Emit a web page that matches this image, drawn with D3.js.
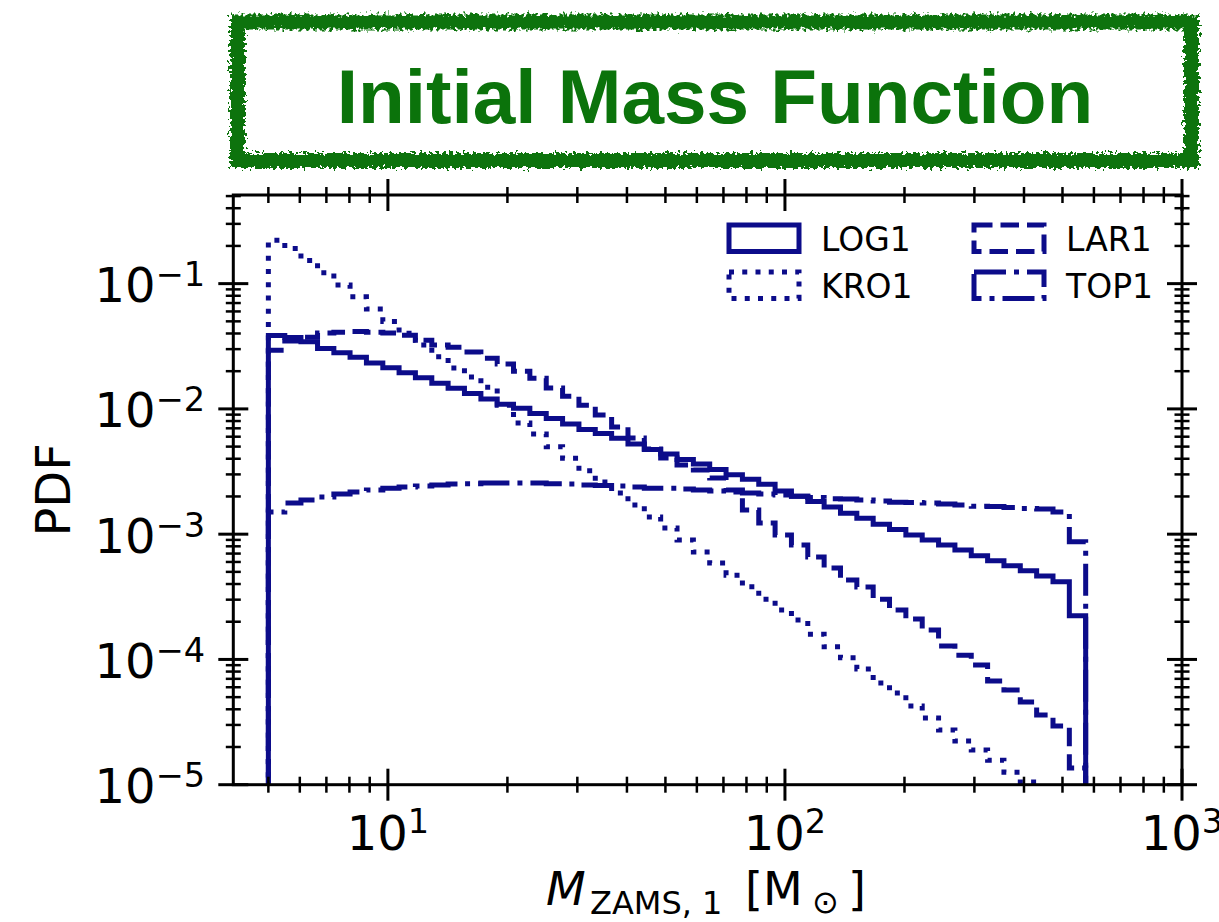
<!DOCTYPE html>
<html>
<head>
<meta charset="utf-8">
<script src="https://cdn.jsdelivr.net/npm/d3@7"></script>
<style>
  body { margin: 0; background: #fff; }
  svg { display: block; }
</style>
</head>
<body>
<script>
// log-spaced bin edges of the histograms (M_sun)
const binEdges = [5.00, 5.50, 6.04, 6.65, 7.31, 8.03, 8.83, 9.71, 10.67, 11.73,
  12.90, 14.18, 15.59, 17.15, 18.85, 20.72, 22.78, 25.05, 27.54, 30.28,
  33.29, 36.60, 40.24, 44.24, 48.64, 53.48, 58.80, 64.64, 71.07, 78.14,
  85.91, 94.45, 103.84, 114.16, 125.52, 138.00, 151.72, 166.81, 183.39, 201.63,
  221.68, 243.72, 267.96, 294.60, 323.90, 356.10, 391.51, 430.44, 473.24, 520.30, 572.03];

// PDF per bin
const log1 = [0.0386, 0.0372, 0.0343, 0.0304, 0.0281, 0.0258, 0.0233, 0.0213, 0.0194, 0.0177,
  0.0160, 0.0146, 0.0133, 0.0120, 0.0109, 0.0101, 0.0092, 0.0084, 0.00756, 0.00686,
  0.00637, 0.00582, 0.00524, 0.00475, 0.00436, 0.00395, 0.00363, 0.00329, 0.00298, 0.00274,
  0.00250, 0.00221, 0.00201, 0.00182, 0.00165, 0.00147, 0.00134, 0.00120, 0.00109, 0.000984,
  0.000897, 0.000818, 0.000746, 0.000672, 0.000613, 0.000559, 0.000510, 0.000463, 0.000417, 0.000223];

const kro1 = [0.222, 0.191, 0.153, 0.122, 0.0973, 0.0785, 0.0626, 0.0499, 0.0401, 0.0323,
  0.0261, 0.0212, 0.0180, 0.0149, 0.0107, 0.00771, 0.00630, 0.00499, 0.00403, 0.00321,
  0.00261, 0.00213, 0.00171, 0.00137, 0.00112, 0.000897, 0.000720, 0.000588, 0.000471, 0.000380,
  0.000303, 0.000248, 0.000206, 0.000159, 0.000126, 0.000103, 8.38e-5, 6.48e-5, 5.39e-5, 4.25e-5,
  3.41e-5, 2.73e-5, 2.23e-5, 1.89e-5, 1.57e-5, 1.26e-5, 1.05e-5, 8.6e-6, 6.9e-6, 5.7e-6];

const lar1 = [0.0294, 0.0348, 0.0374, 0.0403, 0.0410, 0.0414, 0.0410, 0.0403, 0.0388, 0.0354,
  0.0323, 0.0311, 0.0284, 0.0254, 0.0228, 0.0200, 0.0176, 0.0147, 0.0126, 0.0107,
  0.00893, 0.00716, 0.00585, 0.00478, 0.00405, 0.00356, 0.00325, 0.00281, 0.00225, 0.00156,
  0.00123, 0.000984, 0.000818, 0.000657, 0.000536, 0.000430, 0.000378, 0.000303, 0.000248, 0.000210,
  0.000172, 0.000128, 0.000108, 9.02e-5, 6.73e-5, 5.70e-5, 4.57e-5, 3.60e-5, 2.94e-5, 1.36e-5];

const top1 = [0.00150, 0.00177, 0.00187, 0.00198, 0.00209, 0.00217, 0.00225, 0.00233, 0.00238, 0.00242,
  0.00247, 0.00251, 0.00253, 0.00256, 0.00256, 0.00256, 0.00256, 0.00253, 0.00251, 0.00247,
  0.00245, 0.00242, 0.00238, 0.00233, 0.00233, 0.00229, 0.00225, 0.00221, 0.00217, 0.00213,
  0.00209, 0.00205, 0.00201, 0.00196, 0.00192, 0.00191, 0.00187, 0.00184, 0.00180, 0.00179,
  0.00177, 0.00174, 0.00171, 0.00167, 0.00166, 0.00163, 0.00160, 0.00159, 0.00150, 0.00087];

const seriesNames = ["LOG1", "KRO1", "LAR1", "TOP1"];
const xTickValues = [10, 100, 1000];
const xTickExp = ["1", "2", "3"];
const yTickValues = [1e-5, 1e-4, 1e-3, 1e-2, 1e-1];
const yTickExp = ["\u22125", "\u22124", "\u22123", "\u22122", "\u22121"];

const W = 1219, H = 922;
const L = 233.3, R = 1182, T = 195, B = 784.7;
const navy = "#0c0c8a", green = "#0b730b";
const lw = 5;
const dashes = {
  LOG1: null,
  KRO1: `${lw} ${1.65 * lw}`,
  LAR1: `${3.7 * lw} ${1.6 * lw}`,
  TOP1: `${6.4 * lw} ${1.6 * lw} ${lw} ${1.6 * lw}`
};

const svg = d3.select("body").append("svg")
  .attr("width", W).attr("height", H)
  .style("font-family", "'DejaVu Sans', sans-serif");

const defs = svg.append("defs");
const filt = defs.append("filter").attr("id", "rough")
  .attr("x", "-5%").attr("y", "-30%").attr("width", "110%").attr("height", "160%");
filt.append("feTurbulence").attr("type", "fractalNoise").attr("baseFrequency", "0.3")
  .attr("numOctaves", 2).attr("seed", 7).attr("result", "noise");
filt.append("feDisplacementMap").attr("in", "SourceGraphic").attr("in2", "noise")
  .attr("scale", 11).attr("xChannelSelector", "R").attr("yChannelSelector", "G");

defs.append("clipPath").attr("id", "plotclip")
  .append("rect").attr("x", L).attr("y", T).attr("width", R - L).attr("height", B - T);

// title box
svg.append("rect")
  .attr("x", 237.5).attr("y", 22).attr("width", 1191.5 - 237.5).attr("height", 160.5 - 22)
  .attr("fill", "none").attr("stroke", green).attr("stroke-width", 15)
  .attr("filter", "url(#rough)");
svg.append("text")
  .attr("x", 715).attr("y", 123)
  .attr("text-anchor", "middle")
  .style("font-family", "'Liberation Sans', Arial, sans-serif")
  .style("font-weight", "bold").style("font-size", "76.5px")
  .attr("fill", green)
  .text("Initial Mass Function");

// scales
const x = d3.scaleLog().domain([4.08, 1000]).range([L, R]);
const y = d3.scaleLog().domain([1e-5, 0.51]).range([B, T]);

// histograms as steps
const line = d3.line()
  .x(d => x(d[0])).y(d => y(d[1]))
  .curve(d3.curveStepAfter);

function stepPoints(vals) {
  const floor = 1e-6;
  const pts = [[binEdges[0], floor]];
  vals.forEach((v, i) => pts.push([binEdges[i], v]));
  pts.push([binEdges[binEdges.length - 1], vals[vals.length - 1]]);
  pts.push([binEdges[binEdges.length - 1], floor]);
  return pts;
}

const series = { LOG1: log1, KRO1: kro1, LAR1: lar1, TOP1: top1 };
const gPlot = svg.append("g").attr("clip-path", "url(#plotclip)");
seriesNames.forEach(name => {
  gPlot.append("path")
    .attr("d", line(stepPoints(series[name])))
    .attr("fill", "none")
    .attr("stroke", navy)
    .attr("stroke-width", lw)
    .attr("stroke-linejoin", "miter")
    .attr("stroke-dasharray", dashes[name]);
});

// ticks on all four sides, crossing the spines
const gTicks = svg.append("g").attr("stroke", "#000");
const isMajor = v => Math.abs(Math.log10(v) - Math.round(Math.log10(v))) < 1e-9;
x.ticks().filter(v => v >= 4.08 && v <= 1000).forEach(v => {
  const len = isMajor(v) ? 16 : 8;
  const w = isMajor(v) ? 3 : 2.5;
  [B, T].forEach(yy => {
    gTicks.append("line").attr("x1", x(v)).attr("x2", x(v))
      .attr("y1", yy - len).attr("y2", yy + len).attr("stroke-width", w);
  });
});
y.ticks().filter(v => v >= 1e-5 && v <= 0.51).forEach(v => {
  const len = isMajor(v) ? 15 : 7.5;
  const w = isMajor(v) ? 3 : 2.5;
  [L, R].forEach(xx => {
    gTicks.append("line").attr("y1", y(v)).attr("y2", y(v))
      .attr("x1", xx - len).attr("x2", xx + len).attr("stroke-width", w);
  });
});

// frame
svg.append("rect").attr("x", L).attr("y", T).attr("width", R - L).attr("height", B - T)
  .attr("fill", "none").attr("stroke", "#000").attr("stroke-width", 3);

// tick labels
const tickFont = 48;
xTickValues.forEach((v, i) => {
  const t = svg.append("text").attr("x", x(v)).attr("y", B + 65)
    .attr("text-anchor", "middle").style("font-size", tickFont + "px");
  t.append("tspan").text("10");
  t.append("tspan").attr("dy", -17).style("font-size", (tickFont * 0.7) + "px").text(xTickExp[i]);
});
yTickValues.forEach((v, i) => {
  const t = svg.append("text").attr("x", 205).attr("y", y(v) + 18.5)
    .attr("text-anchor", "end").style("font-size", tickFont + "px");
  t.append("tspan").text("10");
  t.append("tspan").attr("dy", -16).style("font-size", (tickFont * 0.7) + "px").text(yTickExp[i]);
});

// axis labels
svg.append("text")
  .attr("transform", `translate(70,${(T + B) / 2}) rotate(-90)`)
  .attr("text-anchor", "middle").style("font-size", "48px")
  .text("PDF");

const xlBase = 905;
const gXl = svg.append("g").style("font-size", "46px");
gXl.append("text").attr("x", 546).attr("y", xlBase).style("font-style", "italic").text("M");
gXl.append("text").attr("x", 590).attr("y", xlBase + 9).style("font-size", "32px").text("ZAMS, 1");
gXl.append("text").attr("x", 745).attr("y", xlBase).text("[M");
gXl.append("text").attr("x", 812).attr("y", xlBase + 8).style("font-size", "32px").text("\u2299");
gXl.append("text").attr("x", 848).attr("y", xlBase).text("]");

// legend
const legendItems = [
  { name: "LOG1", x: 729, y: 225 },
  { name: "KRO1", x: 729, y: 272 },
  { name: "LAR1", x: 974, y: 225 },
  { name: "TOP1", x: 974, y: 272 }
];
const gLeg = svg.append("g");
legendItems.forEach(it => {
  gLeg.append("rect").attr("x", it.x).attr("y", it.y).attr("width", 70).attr("height", 26.5)
    .attr("fill", "none").attr("stroke", navy).attr("stroke-width", lw)
    .attr("stroke-dasharray", dashes[it.name]);
  gLeg.append("text").attr("x", it.x + 92).attr("y", it.y + 25.5)
    .style("font-size", "33px").text(it.name);
});
</script>
</body>
</html>
